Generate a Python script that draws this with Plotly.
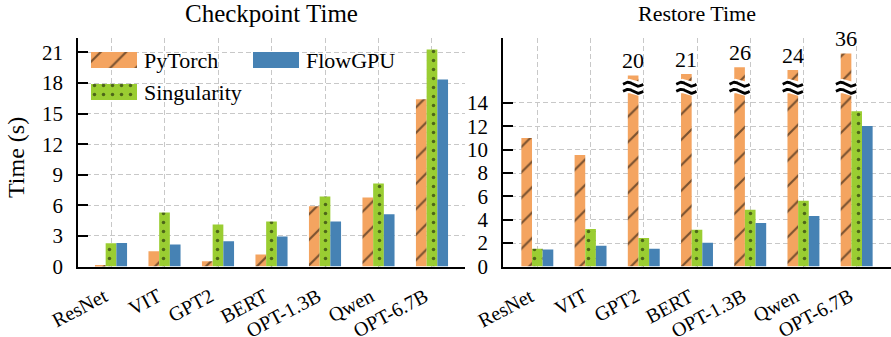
import numpy as np
import plotly.graph_objects as go

# ---------------- data ----------------
categories = ["ResNet", "VIT", "GPT2", "BERT", "OPT-1.3B", "Qwen", "OPT-6.7B"]
series_names = ["PyTorch", "Singularity", "FlowGPU"]

ckpt_pytorch = [0.15, 1.5, 0.52, 1.18, 5.92, 6.77, 16.4]
ckpt_singularity = [2.29, 5.3, 4.12, 4.42, 6.87, 8.15, 21.3]
ckpt_flowgpu = [2.3, 2.16, 2.48, 2.94, 4.42, 5.13, 18.35]

restore_pytorch = [11.0, 9.55, 20, 21, 26, 24, 36]
restore_singularity = [1.51, 3.22, 2.45, 3.14, 4.85, 5.62, 13.3]
restore_flowgpu = [1.45, 1.77, 1.51, 2.03, 3.73, 4.33, 12.03]

left_ticks = [0, 3, 6, 9, 12, 15, 18, 21]
right_ticks = [0, 2, 4, 6, 8, 10, 12, 14]

# ---------------- style ----------------
FONT = "Liberation Serif"
C_PT = "#F4A460"
C_SG = "#9ACD32"
C_FG = "#4682B4"
GRID = "#c8c8c8"

BREAK = 14.0          # axis break on the restore plot
SQUEEZE = 8.5         # compression of values above the break


def shown(v):
    return v if v <= 15 else BREAK + v / SQUEEZE


x_idx = list(range(len(categories)))
restore_pt_shown = [shown(v) for v in restore_pytorch]
broken = [i for i, v in enumerate(restore_pytorch) if v > 15]

pt_pattern = dict(shape="/", fgcolor="black", bgcolor=C_PT, size=18, solidity=0.12)
sg_pattern = dict(shape=".", fgcolor="black", bgcolor=C_SG, size=9, solidity=0.12)

fig = go.Figure()


def add_group(xa, ya, pt, sg, fg):
    fig.add_trace(go.Bar(x=x_idx, y=pt, name=series_names[0], xaxis=xa, yaxis=ya,
                         marker=dict(color=C_PT, pattern=pt_pattern, line=dict(width=0)),
                         showlegend=False))
    fig.add_trace(go.Bar(x=x_idx, y=sg, name=series_names[1], xaxis=xa, yaxis=ya,
                         marker=dict(color=C_SG, pattern=sg_pattern, line=dict(width=0)),
                         showlegend=False))
    fig.add_trace(go.Bar(x=x_idx, y=fg, name=series_names[2], xaxis=xa, yaxis=ya,
                         marker=dict(color=C_FG, line=dict(width=0)),
                         showlegend=False))


add_group("x", "y", ckpt_pytorch, ckpt_singularity, ckpt_flowgpu)
add_group("x2", "y2", restore_pt_shown, restore_singularity, restore_flowgpu)

# break marks (≈) on the squeezed bars
wx, wy = [], []
t = np.linspace(0, 1, 40)
for i in broken:
    cx = i - 0.2
    for yc in (15.6, 15.0):
        wx += list(cx - 0.19 + 0.38 * t) + [None]
        wy += list(yc + 0.17 * np.sin(2 * np.pi * t)) + [None]
fig.add_trace(go.Scatter(x=wx, y=wy, xaxis="x2", yaxis="y2", mode="lines",
                         line=dict(color="white", width=7), showlegend=False,
                         hoverinfo="skip", cliponaxis=False))
fig.add_trace(go.Scatter(x=wx, y=wy, xaxis="x2", yaxis="y2", mode="lines",
                         line=dict(color="black", width=2.8), showlegend=False,
                         hoverinfo="skip", cliponaxis=False))

# custom legend (pixel-space overlay axes)
legend_items = [
    (series_names[0], C_PT, pt_pattern, 91, 52),
    (series_names[2], C_FG, None, 253, 52),
    (series_names[1], C_SG, sg_pattern, 91, 84),
]
annotations = []
for name, col, pat, lx, ly in legend_items:
    sx = [lx, lx + 46, lx + 46, lx, lx]
    sy = [ly, ly, ly + 16, ly + 16, ly]
    kw = {}
    if pat is not None:
        kw["fillpattern"] = pat
    fig.add_trace(go.Scatter(x=sx, y=sy, xaxis="x3", yaxis="y3", mode="lines",
                             fill="toself", fillcolor=col, line=dict(width=0, color=col),
                             showlegend=False, hoverinfo="skip", **kw))
    annotations.append(dict(x=lx + 51, y=ly + 8, xref="x3", yref="y3", text=name,
                            showarrow=False, xanchor="left", yanchor="middle",
                            font=dict(family=FONT, size=22, color="black")))

# value labels above squeezed bars
for i in broken:
    annotations.append(dict(x=i - 0.2, y=restore_pt_shown[i], xref="x2", yref="y2",
                            text=str(restore_pytorch[i]), showarrow=False,
                            yanchor="bottom", yshift=0,
                            font=dict(family=FONT, size=22, color="black")))

# category labels (rotated)
for xa, ya in (("x", "y"), ("x2", "y2")):
    for i, cat in enumerate(categories):
        annotations.append(dict(x=i, y=0, xref=xa, yref=ya, text=cat, showarrow=False,
                                textangle=-28, xanchor="right", yanchor="top",
                                yshift=-15, xshift=2,
                                font=dict(family=FONT, size=20, color="black")))

# titles
annotations.append(dict(x=271.5, y=13, xref="x3", yref="y3", text="Checkpoint Time",
                        showarrow=False, xanchor="center", yanchor="middle",
                        font=dict(family=FONT, size=25, color="black")))
annotations.append(dict(x=697, y=13, xref="x3", yref="y3", text="Restore Time",
                        showarrow=False, xanchor="center", yanchor="middle",
                        font=dict(family=FONT, size=22, color="black")))
annotations.append(dict(x=16, y=158, xref="x3", yref="y3", text="Time (s)",
                        showarrow=False, textangle=-90, xanchor="center", yanchor="middle",
                        font=dict(family=FONT, size=24, color="black")))

ydom = [(337 - 266.5) / 337, (337 - 38) / 337]

common_x = dict(tickmode="array", tickvals=x_idx, showticklabels=False,
                showgrid=True, gridcolor=GRID, griddash="5px,3px", gridwidth=1.3,
                showline=True, linecolor="black", linewidth=1.6, ticks="",
                zeroline=False, automargin=False, fixedrange=True)
common_y = dict(showgrid=True, gridcolor=GRID, griddash="5px,3px", gridwidth=1.3,
                showline=True, linecolor="black", linewidth=1.6, ticks="inside",
                ticklen=10, tickwidth=1.6, tickcolor="black", zeroline=False,
                tickfont=dict(family=FONT, size=21, color="black"),
                ticklabelstandoff=9, automargin=False, fixedrange=True)

fig.update_layout(
    width=891, height=337,
    margin=dict(l=0, r=0, t=0, b=0, autoexpand=False),
    paper_bgcolor="white", plot_bgcolor="rgba(0,0,0,0)",
    font=dict(family=FONT, color="black"),
    barmode="group", bargap=0.4, bargroupgap=0,
    showlegend=False,
    xaxis=dict(domain=[78 / 891, 465 / 891], range=[-0.617, 6.617], anchor="y", **common_x),
    yaxis=dict(domain=ydom, range=[0, 22.42], anchor="x", tickmode="array",
               tickvals=left_ticks, **common_y),
    xaxis2=dict(domain=[503 / 891, 1.0], range=[-0.645, 6.645], anchor="y2", **common_x),
    yaxis2=dict(domain=ydom, range=[0, 19.56], anchor="x2", tickmode="array",
                tickvals=right_ticks, **common_y),
    xaxis3=dict(domain=[0, 1], range=[0, 891], visible=False, anchor="y3",
                fixedrange=True, automargin=False),
    yaxis3=dict(domain=[0, 1], range=[337, 0], visible=False, anchor="x3",
                fixedrange=True, automargin=False),
    annotations=annotations,
)

fig.write_html("out.html")
